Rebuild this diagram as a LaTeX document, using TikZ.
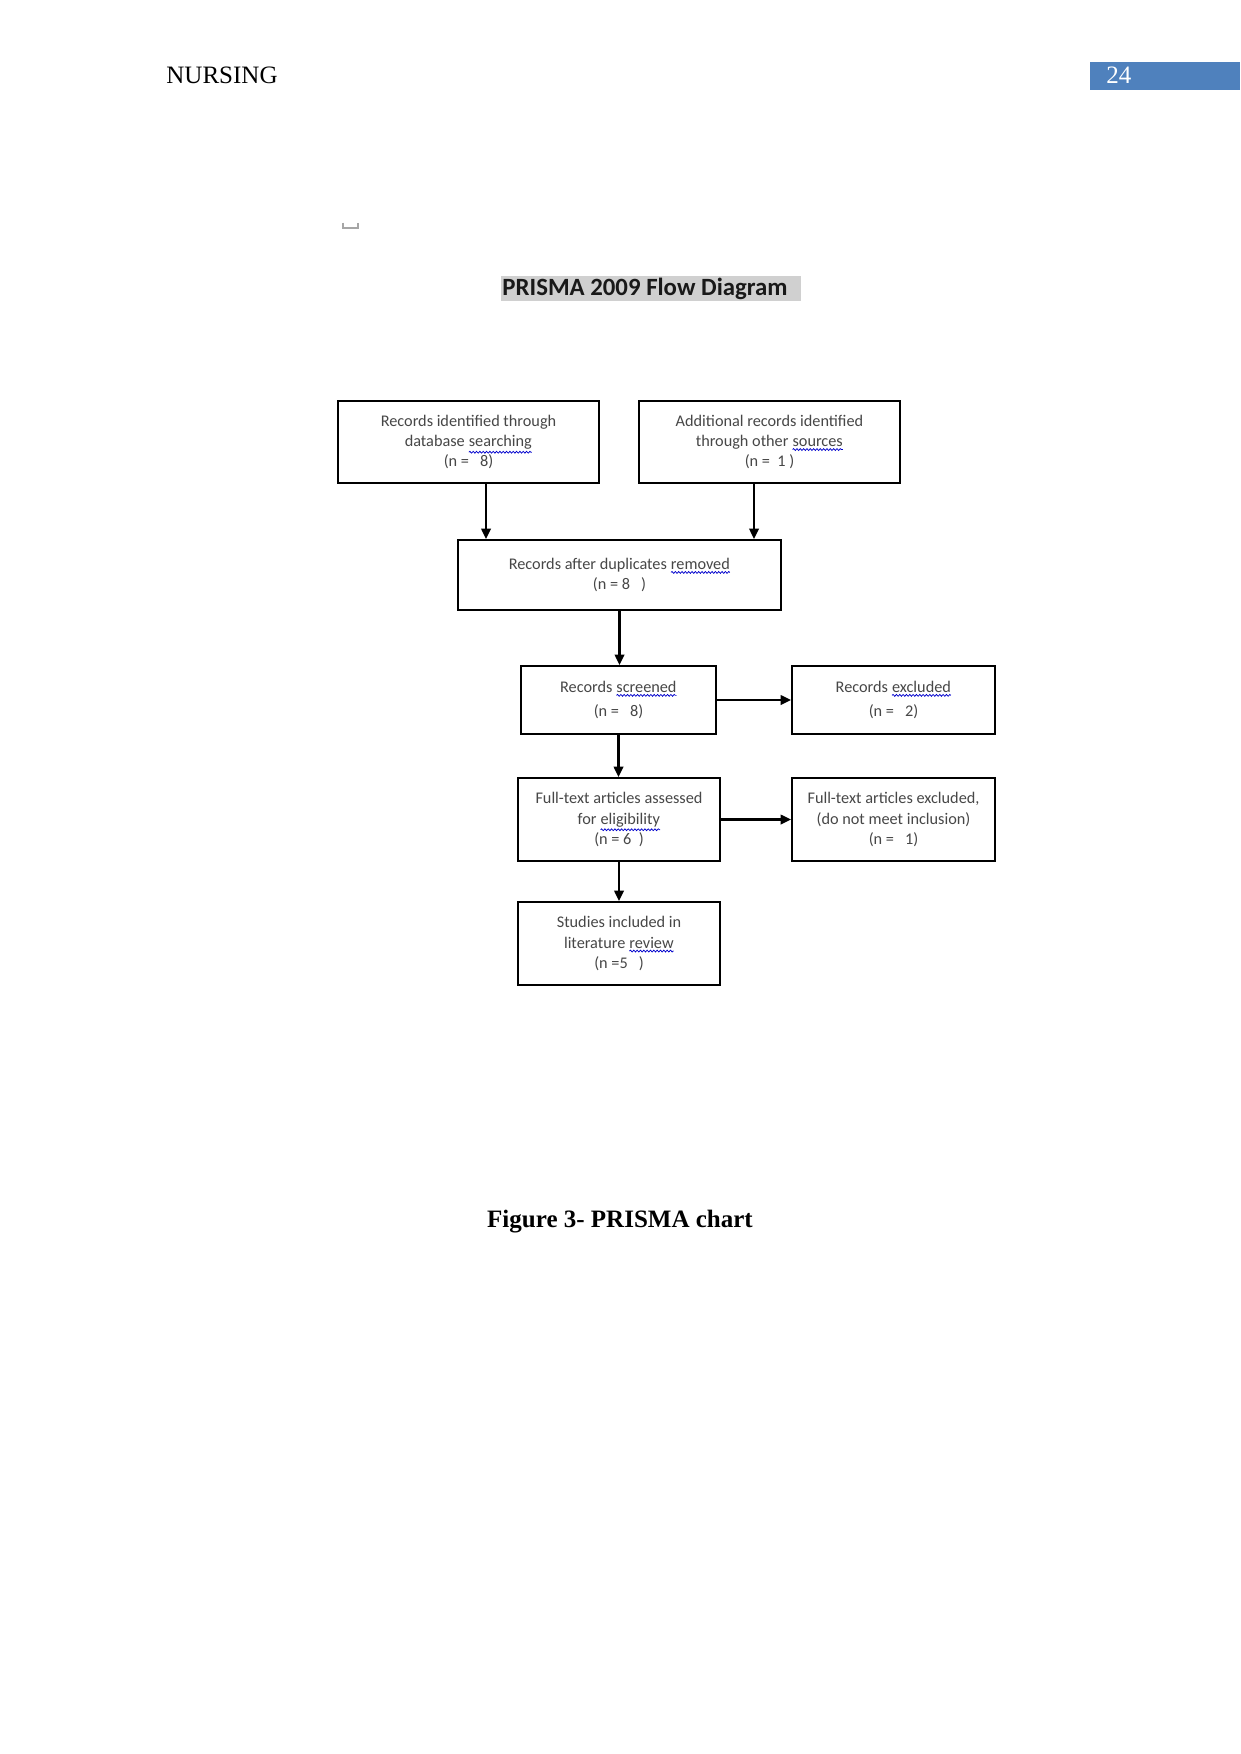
\documentclass[tikz,border=0pt]{standalone}
\usepackage{fontspec}
\setmainfont{Liberation Serif}
\newfontfamily\calfont{Carlito}
\usetikzlibrary{arrows.meta,decorations.pathmorphing}
\definecolor{wordblue}{RGB}{79,129,189}
\definecolor{hlgray}{RGB}{208,208,208}
\def\px{0.4797pt}
\newcommand\spell[1]{\tikz[baseline=(w.base)]{\node[inner sep=0pt,outer sep=0pt,minimum width=0pt,minimum height=0pt,draw=none](w){#1};\draw[blue!80!black,line width=0.35pt,decorate,decoration={snake,amplitude=0.45pt,segment length=1.6pt}] ([yshift=-1.4pt]w.south west)--([yshift=-1.4pt]w.south east);}}
\tikzset{
  flowbox/.style={draw=black,line width=1pt,text=black!72,align=center,inner sep=2pt,
    font=\calfont\fontsize{7.8}{9.7}\selectfont},
  arr/.style={line width=1pt,-{Triangle[length=5pt,width=4.6pt]}},
}
\begin{document}
\begin{tikzpicture}[x=0.4797pt,y=-0.4797pt]
\useasboundingbox (0,0) rectangle (1241,1754);
\fill[white] (0,0) rectangle (1241,1754);
% header
\node[anchor=base west,inner sep=0pt,font=\fontsize{12}{14}\selectfont] (hdr) at (166,84) {NURSING};
\fill[wordblue] (1090,62) rectangle (1240,90);
\node[anchor=base west,inner sep=0pt,text=white,font=\fontsize{12}{14}\selectfont] (pg) at (1106,84) {24};
% small mark
\draw[black!35,line width=0.6pt] (343,222.5)--(343,228)--(358,228)--(358,222.5);
% title
\fill[hlgray] (501,276) rectangle (801,301);
\node[inner sep=0pt,font=\calfont\bfseries\fontsize{11.9}{14}\selectfont,text=black!90] (title) at (645,289) {PRISMA 2009 Flow Diagram};
% boxes
\node[flowbox,minimum width=261*\px,minimum height=82*\px] (B1) at (468.5,442)
  {Records identified through\\database \spell{searching}\\(n =\ \ \ 8)};
\node[flowbox,minimum width=261*\px,minimum height=82*\px] (B2) at (769.5,442)
  {Additional records identified\\through other \spell{sources}\\(n =\ \ 1 )};
\node[flowbox,minimum width=323*\px,minimum height=70*\px] (B3) at (619.5,575)
  {Records after duplicates \spell{removed}\\(n = 8\ \ \ )};
\node[flowbox,minimum width=195*\px,minimum height=68*\px] (B4) at (618.5,700)
  {Records \spell{screened}\\[2pt](n =\ \ \ 8)};
\node[flowbox,minimum width=203*\px,minimum height=68*\px] (B5) at (893.5,700)
  {Records \spell{excluded}\\[2pt](n =\ \ \ 2)};
\node[flowbox,minimum width=202*\px,minimum height=83*\px] (B6) at (619,819.5)
  {Full-text articles assessed\\for \spell{eligibility}\\(n = 6\ \ )};
\node[flowbox,minimum width=203*\px,minimum height=83*\px] (B7) at (893.5,819.5)
  {Full-text articles excluded,\\(do not meet inclusion)\\(n =\ \ \ 1)};
\node[flowbox,minimum width=202*\px,minimum height=83*\px] (B8) at (619,943.5)
  {Studies included in\\literature \spell{review}\\(n =5\ \ \ )};
% connectors
\coordinate (c1) at (486,0);
\coordinate (c2) at (754,0);
\draw[arr] (B1.south -| c1) -- (B3.north -| c1);
\draw[arr] (B2.south -| c2) -- (B3.north -| c2);
\draw[arr] (B3.south) -- (B3.south |- B4.north);
\draw[arr] (B4.east) -- (B5.west);
\draw[arr] (B4.south) -- (B4.south |- B6.north);
\draw[arr] (B6.east) -- (B7.west);
\draw[arr] (B6.south) -- (B8.north);
% caption
\node[anchor=base,inner sep=0pt,font=\bfseries\fontsize{12}{14}\selectfont] (cap) at (620,1227) {Figure 3- PRISMA chart};
\end{tikzpicture}
\end{document}
